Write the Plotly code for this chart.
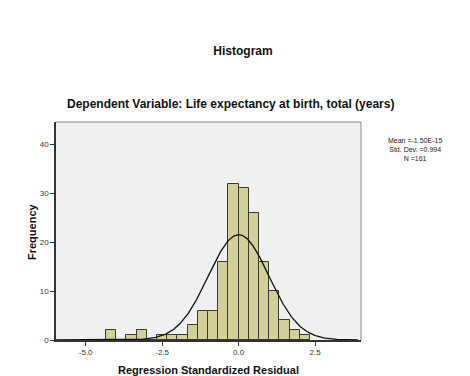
import numpy as np
import plotly.graph_objects as go

# Data
bin_start = -13 / 3
bin_width = 1 / 3
counts = [2, 0, 1, 2, 0, 1, 1, 1, 3, 6, 6, 16, 32, 31, 26, 16, 10, 4, 2, 1]
mean_val = -1.50e-15
sd_val = 0.994
n_val = 161
x_tickvals = [-5.0, -2.5, 0.0, 2.5]
x_ticktext = ["-5.0", "-2.5", "0.0", "2.5"]
y_tickvals = [0, 10, 20, 30, 40]
stats_lines = ["Mean =-1.50E-15", "Std. Dev. =0.994", "N =161"]

centers = [bin_start + bin_width * (i + 0.5) for i in range(len(counts))]

# Normal curve implied by the stated mean, SD and N
xs = np.linspace(-5.97, 3.9, 400)
ys = n_val * bin_width / (sd_val * np.sqrt(2 * np.pi)) * np.exp(-0.5 * ((xs - mean_val) / sd_val) ** 2)

FONT = "Liberation Sans, Arial, sans-serif"

fig = go.Figure()
fig.add_trace(go.Bar(
    x=centers, y=counts, width=bin_width,
    marker=dict(color="#D4CF99", line=dict(color="#3a3a30", width=1)),
    hoverinfo="x+y",
))
fig.add_trace(go.Scatter(
    x=xs, y=ys, mode="lines",
    line=dict(color="#111111", width=1.3),
    hoverinfo="skip",
))

fig.update_layout(
    width=470, height=376,
    margin=dict(l=48, r=117, t=114, b=44),
    paper_bgcolor="white",
    plot_bgcolor="#F0F0F0",
    showlegend=False,
    bargap=0,
    font=dict(family=FONT, color="#222222"),
    title=dict(
        text="<b>Histogram</b>", x=0.5, xanchor="center",
        y=1 - 43 / 376, yanchor="middle", yref="container",
        font=dict(size=12, color="#111111", family=FONT),
    ),
    xaxis=dict(
        range=[-5.97, 4.0], tickvals=x_tickvals, ticktext=x_ticktext,
        showgrid=False, zeroline=False,
        showline=True, linecolor="#333333", linewidth=1.5,
        ticks="outside", ticklen=4, tickcolor="#333333",
        tickfont=dict(size=8, color="#333333"),
        mirror=False,
    ),
    yaxis=dict(
        range=[0, 44.6], tickvals=y_tickvals,
        showgrid=False, zeroline=False,
        showline=True, linecolor="#333333", linewidth=1.5,
        ticks="outside", ticklen=4, tickcolor="#333333",
        tickfont=dict(size=8, color="#333333"),
    ),
    shapes=[
        dict(type="line", xref="paper", yref="paper", x0=0, x1=1, y0=1, y1=1,
             line=dict(color="#888888", width=1)),
        dict(type="line", xref="paper", yref="paper", x0=1, x1=1, y0=0, y1=1,
             line=dict(color="#888888", width=1)),
    ],
    annotations=[
        dict(text="<b>Dependent Variable: Life expectancy at birth, total (years)</b>",
             xref="paper", yref="paper", x=(222 - 48) / 305, y=(332 - 96) / 218,
             xanchor="center", yanchor="middle", showarrow=False,
             font=dict(size=12, color="#111111")),
        dict(text="<b>Regression Standardized Residual</b>",
             xref="paper", yref="paper", x=(200 - 48) / 305, y=(332 - 362) / 218,
             xanchor="center", yanchor="middle", showarrow=False,
             font=dict(size=11, color="#111111")),
        dict(text="<b>Frequency</b>", textangle=-90,
             xref="paper", yref="paper", x=(24 - 48) / 305, y=(332 - 223) / 218,
             xanchor="center", yanchor="middle", showarrow=False,
             font=dict(size=11, color="#111111")),
        dict(text="<br>".join(stats_lines), align="center",
             xref="paper", yref="paper", x=(407 - 48) / 305, y=(332 - 141) / 218,
             xanchor="center", yanchor="middle", showarrow=False,
             font=dict(size=7, color="#222222")),
    ],
)

fig.write_html("out.html")
